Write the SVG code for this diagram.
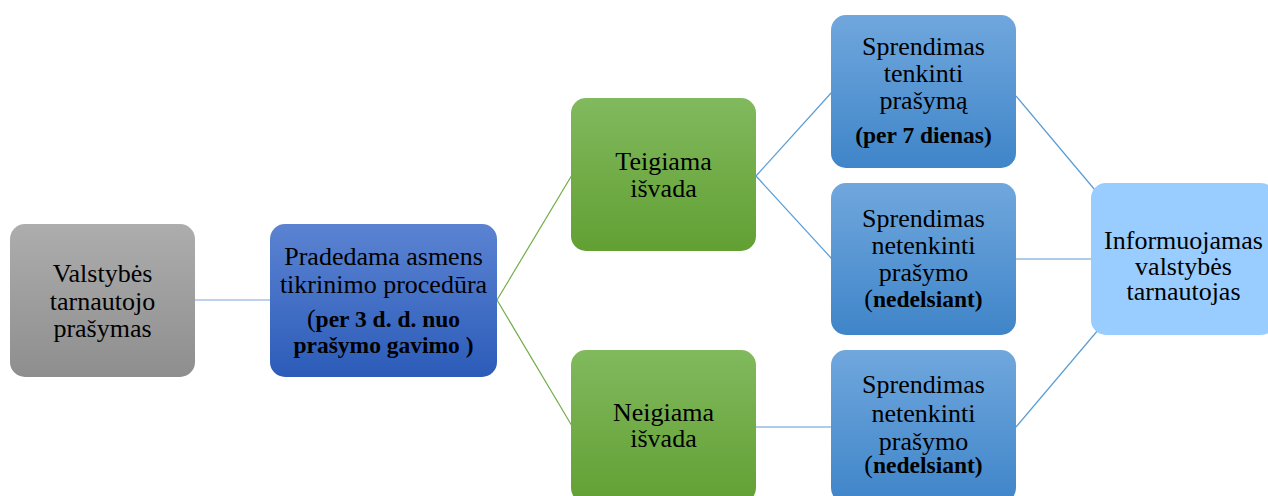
<svg xmlns="http://www.w3.org/2000/svg" width="1268" height="496" viewBox="0 0 1268 496">
<defs>
<linearGradient id="gGray" x1="0" y1="0" x2="0" y2="1"><stop offset="0" stop-color="#adadad"/><stop offset="1" stop-color="#8e8e8e"/></linearGradient>
<linearGradient id="gDark" x1="0" y1="0" x2="0" y2="1"><stop offset="0" stop-color="#5b83d2"/><stop offset="1" stop-color="#2c5cb9"/></linearGradient>
<linearGradient id="gGreen" x1="0" y1="0" x2="0" y2="1"><stop offset="0" stop-color="#81b95e"/><stop offset="1" stop-color="#62a033"/></linearGradient>
<linearGradient id="gBlue" x1="0" y1="0" x2="0" y2="1"><stop offset="0" stop-color="#70a7dd"/><stop offset="1" stop-color="#3f85c9"/></linearGradient>
</defs>
<style>
text{font-family:'Liberation Serif','DejaVu Serif',serif;font-size:26px;fill:#000;text-anchor:middle}
.b{font-weight:bold;font-size:23.5px}
.ln{fill:none;stroke-width:1.2}
</style>
<g id="connectors">
<line class="ln" x1="195" y1="300" x2="270" y2="300" stroke="#7ea3da"/>
<line class="ln" x1="497" y1="300" x2="572" y2="175" stroke="#70ad47"/>
<line class="ln" x1="497" y1="300" x2="572" y2="426" stroke="#70ad47"/>
<line class="ln" x1="756" y1="176" x2="832" y2="92" stroke="#5b9bd5"/>
<line class="ln" x1="756" y1="176" x2="832" y2="259" stroke="#5b9bd5"/>
<line class="ln" x1="756" y1="427" x2="832" y2="427" stroke="#5b9bd5"/>
<line class="ln" x1="1016" y1="96" x2="1100" y2="196" stroke="#5b9bd5"/>
<line class="ln" x1="1016" y1="259" x2="1092" y2="259" stroke="#5b9bd5"/>
<line class="ln" x1="1016" y1="427" x2="1104" y2="323" stroke="#5b9bd5"/>
</g>
<g id="n1" font-family="'Liberation Serif', serif">
<rect x="10" y="224" width="185" height="153" rx="15" fill="url(#gGray)"/>
<text x="102.5" y="282">Valstybės</text>
<text x="102.5" y="310">tarnautojo</text>
<text x="102.5" y="337">prašymas</text>
</g>
<g id="n2">
<rect x="270" y="224" width="227" height="153" rx="15" fill="url(#gDark)"/>
<text x="383.5" y="265">Pradedama asmens</text>
<text x="383.5" y="293">tikrinimo procedūra</text>
<text x="383.5" y="327"><tspan>(</tspan><tspan class="b">per 3 d. d. nuo</tspan></text>
<text x="383.5" y="353" class="b">prašymo gavimo )</text>
</g>
<g id="n3">
<rect x="571" y="98" width="185" height="153" rx="15" fill="url(#gGreen)"/>
<text x="663.5" y="170">Teigiama</text>
<text x="663.5" y="197">išvada</text>
</g>
<g id="n4">
<rect x="571" y="350" width="185" height="153" rx="15" fill="url(#gGreen)"/>
<text x="663.5" y="421">Neigiama</text>
<text x="663.5" y="447">išvada</text>
</g>
<g id="n5">
<rect x="831" y="15" width="185" height="153" rx="15" fill="url(#gBlue)"/>
<text x="923.5" y="55">Sprendimas</text>
<text x="923.5" y="82">tenkinti</text>
<text x="923.5" y="109">prašymą</text>
<text x="923.5" y="143" class="b">(per 7 dienas)</text>
</g>
<g id="n6">
<rect x="831" y="183" width="185" height="152" rx="15" fill="url(#gBlue)"/>
<text x="923.5" y="227">Sprendimas</text>
<text x="923.5" y="254">netenkinti</text>
<text x="923.5" y="281">prašymo</text>
<text x="923.5" y="307"><tspan>(</tspan><tspan class="b">nedelsiant)</tspan></text>
</g>
<g id="n7">
<rect x="831" y="350" width="185" height="153" rx="15" fill="url(#gBlue)"/>
<text x="923.5" y="393">Sprendimas</text>
<text x="923.5" y="422">netenkinti</text>
<text x="923.5" y="450">prašymo</text>
<text x="923.5" y="473"><tspan>(</tspan><tspan class="b">nedelsiant)</tspan></text>
</g>
<g id="n8">
<rect x="1091" y="183" width="185" height="152" rx="15" fill="#99ccff"/>
<text x="1183.5" y="249">Informuojamas</text>
<text x="1183.5" y="275">valstybės</text>
<text x="1183.5" y="300">tarnautojas</text>
</g>
</svg>
